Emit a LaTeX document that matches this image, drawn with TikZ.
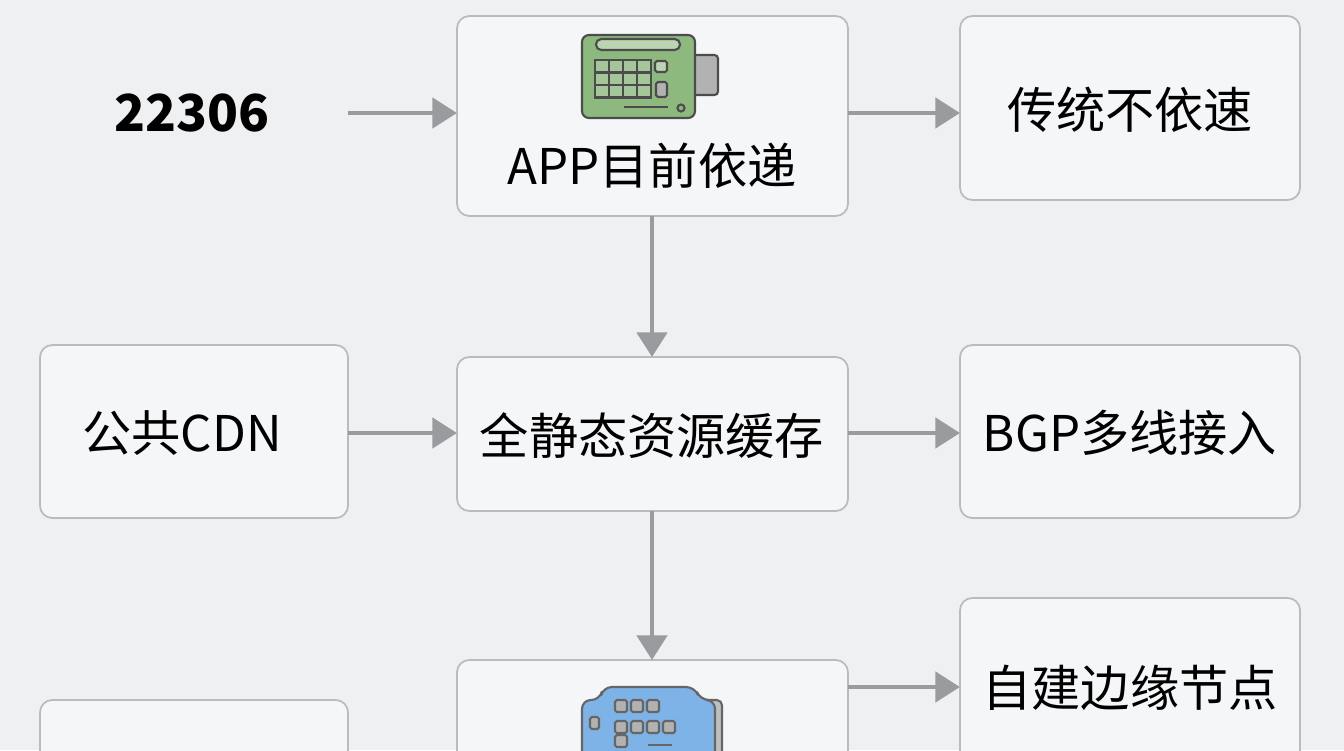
\documentclass[tikz,border=0pt]{standalone}
\usepackage{fontspec}
\setmainfont{Noto Sans CJK SC}
\usetikzlibrary{arrows.meta}
\definecolor{bgcol}{HTML}{EFF0F2}
\definecolor{boxcol}{HTML}{F5F6F8}
\definecolor{linecol}{HTML}{B9BBBF}
\definecolor{arrcol}{HTML}{9A9B9E}
\definecolor{termgreen}{HTML}{8DB87E}
\definecolor{termblue}{HTML}{7DB3E6}
\begin{document}
\begin{tikzpicture}[x=0.02cm,y=-0.02cm,
  box/.style={draw=linecol,line width=1pt,fill=boxcol,rounded corners=7pt},
  lbl/.style={font=\fontsize{28}{31}\selectfont,text=black},
  arr/.style={draw=arrcol,line width=2.8pt,-{Triangle[length=14pt,width=17pt]}}]
\fill[bgcol] (0,0) rectangle (1344,750);
\useasboundingbox (0,0) rectangle (1344,750);
\clip (0,0) rectangle (1344,750);
% boxes
\draw[box] (457,16) rectangle (848,216);
\draw[box] (960,16) rectangle (1300,200);
\draw[box] (40,345) rectangle (348,518);
\draw[box] (457,357) rectangle (848,511);
\draw[box] (960,345) rectangle (1300,518);
\draw[box] (960,598) rectangle (1300,780);
\draw[box] (457,660) rectangle (848,800);
\draw[box] (40,700) rectangle (348,800);
% labels
\node[lbl,font=\fontsize{29}{32}\selectfont\bfseries] (src) at (192,113) {22306};
\node[lbl] (app) at (652,166) {APP目前依递};
\node[lbl] (trad) at (1130,110) {传统不依速};
\node[lbl] (cdn) at (182,433) {公共CDN};
\node[lbl] (cache) at (652,436) {全静态资源缓存};
\node[lbl] (bgp) at (1130,433) {BGP多线接入};
\node[lbl] (edge) at (1130,688) {自建边缘节点};
\coordinate (appL) at (457,113); \coordinate (appR) at (848,113);
\coordinate (appB) at (652,216); \coordinate (tradL) at (960,113);
\coordinate (cdnR) at (348,433); \coordinate (cacheL) at (457,433);
\coordinate (cacheT) at (652,357); \coordinate (cacheR) at (848,433);
\coordinate (cacheB) at (652,511); \coordinate (bgpL) at (960,433);
\coordinate (lowT) at (652,660); \coordinate (lowR) at (848,687);
\coordinate (edgeL) at (960,687); \coordinate (srcR) at (348,113);
% arrows
\draw[arr] (srcR) -- (appL);
\draw[arr] (appR) -- (tradL);
\draw[arr] (appB) -- (cacheT);
\draw[arr] (cdnR) -- (cacheL);
\draw[arr] (cacheR) -- (bgpL);
\draw[arr] (cacheB) -- (lowT);
\draw[arr] (lowR) -- (edgeL);
% green terminal
\begin{scope}[draw=black!70,line width=1.2pt]
\filldraw[fill=gray!60,rounded corners=2pt] (690,55) rectangle (718,95);
\filldraw[fill=termgreen,rounded corners=4pt] (582,35) rectangle (695,118);
\filldraw[fill=termgreen!60,rounded corners=3pt] (596,39) rectangle (680,50);
\foreach \i in {0,...,3}
  \foreach \j in {0,1,2}
    \filldraw[fill=termgreen!80] (595+\i*14,60+\j*12.5) rectangle (609+\i*14,72.5+\j*12.5);
\filldraw[fill=termgreen!60,rounded corners=1pt] (655,61) rectangle (667,72);
\filldraw[fill=gray!60,rounded corners=1pt] (656,82) rectangle (667,97);
\draw (624,107) -- (668,107);
\draw (681,108) circle (2pt);
\end{scope}
% blue module
\begin{scope}[draw=black!60,line width=1.2pt]
\filldraw[fill=gray!50,rounded corners=3pt] (700,700) rectangle (722,760);
\filldraw[fill=termblue,rounded corners=5pt] (582,700) -- (600,700) -- (603,687) -- (695,687) -- (700,700) -- (715,700) -- (715,760) -- (582,760) -- cycle;
\foreach \i in {0,1,2} \filldraw[fill=gray!60,rounded corners=1pt] (615+\i*16,700) rectangle (627+\i*16,712);
\foreach \i in {0,...,3} \filldraw[fill=gray!60,rounded corners=1pt] (615+\i*16,721) rectangle (627+\i*16,733);
\filldraw[fill=gray!60,rounded corners=1pt] (590,717) rectangle (599,729);
\filldraw[fill=gray!60,rounded corners=1pt] (615,735) rectangle (627,747);
\draw (648,745) -- (672,745);
\end{scope}
\end{tikzpicture}
\end{document}
